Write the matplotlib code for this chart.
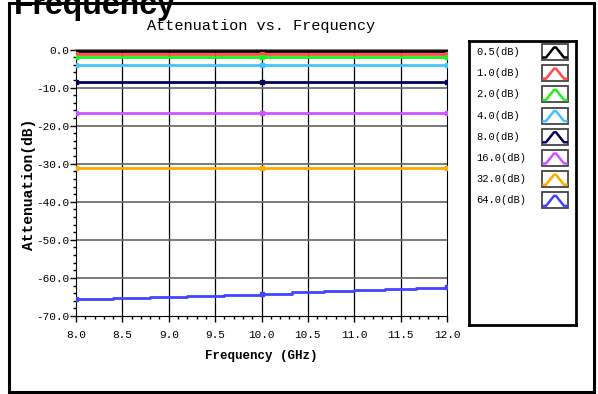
import numpy as np
import matplotlib
matplotlib.use("Agg")
import matplotlib.pyplot as plt
from matplotlib.patches import Rectangle
from matplotlib.lines import Line2D

# ---------------- data ----------------
labels = ["0.5(dB)", "1.0(dB)", "2.0(dB)", "4.0(dB)", "8.0(dB)", "16.0(dB)", "32.0(dB)", "64.0(dB)"]
colors = ["#000000", "#ff4a4a", "#22ee22", "#44c4ff", "#00005a", "#cc55ff", "#ffaa00", "#4444ff"]
freq = [8.0, 8.4, 8.8, 9.2, 9.6, 10.0, 10.33, 10.67, 11.0, 11.33, 11.67, 12.0]
att_05 = [-0.4] * 12
att_1 = [-1.1] * 12
att_2 = [-2.1] * 12
att_4 = [-4.1] * 12
att_8 = [-8.5] * 12
att_16 = [-16.6] * 12
att_32 = [-31.0] * 12
att_64 = [-65.6, -65.35, -65.1, -64.75, -64.4, -64.15, -63.8, -63.5, -63.25, -62.9, -62.65, -62.5]
series = [att_05, att_1, att_2, att_4, att_8, att_16, att_32, att_64]
xticks = [8.0, 8.5, 9.0, 9.5, 10.0, 10.5, 11.0, 11.5, 12.0]
yticks = [0, -10, -20, -30, -40, -50, -60, -70]

mono = "Liberation Mono"
W, H = 598, 394
fig = plt.figure(figsize=(W / 100, H / 100), dpi=100)

def fx(px):
    return px / W

def fy(py):
    return 1 - py / H

# outer frame
fig.patches.append(Rectangle((fx(9), fy(392)), fx(594) - fx(9), fy(3) - fy(392),
                             transform=fig.transFigure, fill=False, edgecolor="black", linewidth=2.2))
fig.text(fx(14), fy(14), "Frequency", fontsize=23, fontweight="bold",
         family="Liberation Sans", ha="left", va="baseline")

# main axes
ax = fig.add_axes([fx(76), fy(316), fx(447) - fx(76), fy(49.5) - fy(316)])
mark_idx = [0, 5, 11]
for vals, c in zip(series, colors):
    ax.plot(freq, vals, color=c, linewidth=2.0, drawstyle="steps-post",
            marker="s", markersize=3.5, markevery=mark_idx, zorder=3)

ax.set_xlim(8, 12)
ax.set_ylim(-70, 0)
ax.set_xticks(xticks)
ax.set_xticklabels([f"{v:.1f}" for v in xticks], family=mono, fontsize=8)
ax.set_yticks(yticks)
ax.set_yticklabels([f"{v:.1f}" for v in yticks], family=mono, fontsize=8)
ax.set_xticks(np.arange(8, 12.01, 0.1), minor=True)
ax.set_yticks(np.arange(-70, 0.01, 2), minor=True)
ax.tick_params(axis="x", which="major", direction="out", length=4, width=1, pad=6)
ax.tick_params(axis="y", which="major", direction="out", length=4, width=1, pad=1)
ax.tick_params(axis="both", which="minor", direction="out", length=2.5, width=1)

for xv in xticks[1:-1]:
    ax.axvline(xv, color="black", linewidth=0.9, zorder=1)
for yv in yticks[1:-1]:
    ax.axhline(yv, color="#707070", linewidth=1.3, zorder=1)

ax.spines["top"].set_color("#707070")
ax.spines["top"].set_linewidth(1.3)
for side in ["right", "left", "bottom"]:
    ax.spines[side].set_color("black")

ax.set_xlabel("Frequency (GHz)", family=mono, fontweight="bold", fontsize=9, labelpad=7)
fig.text(fx(29), fy(184), "Attenuation(dB)", family=mono, fontweight="bold", fontsize=10.5,
         rotation=90, ha="center", va="center")
fig.text(fx(261), fy(26), "Attenuation vs. Frequency", family=mono, fontsize=11,
         ha="center", va="center")

# legend box
lax = fig.add_axes([fx(469), fy(325), fx(576) - fx(469), fy(41) - fy(325)])
lax.set_xlim(469, 576)
lax.set_ylim(325, 41)
lax.set_xticks([])
lax.set_yticks([])
for s in lax.spines.values():
    s.set_linewidth(2)
row_y0, row_dy = 52, 21.2
for i, (lab, c) in enumerate(zip(labels, colors)):
    yc = row_y0 + i * row_dy
    lax.text(476, yc, lab, family=mono, fontsize=7.5, ha="left", va="center")
    lax.add_patch(Rectangle((542, yc - 8), 26, 16, fill=False, edgecolor="#444444", linewidth=1.3))
    lax.add_line(Line2D([543.5, 546, 554, 556, 564, 566.5],
                        [yc + 5.5, yc + 5.5, yc - 4.5, yc - 4.5, yc + 5.5, yc + 5.5],
                        color=c, linewidth=1.8))

fig.savefig("out.png", dpi=100)
